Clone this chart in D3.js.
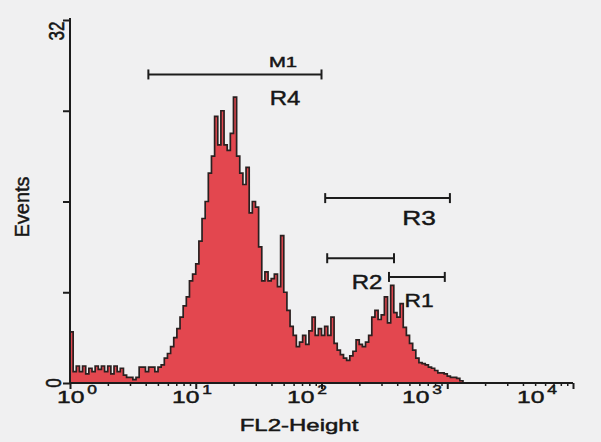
<!DOCTYPE html>
<html>
<head>
<meta charset="utf-8">
<script src="https://cdn.jsdelivr.net/npm/d3@7"></script>
<style>
  body { margin: 0; background: #f0f0f1; }
  svg { display: block; }
  text { font-family: "Liberation Sans", Arial, sans-serif; fill: #161616; stroke: #161616; stroke-width: 0.45px; }
</style>
</head>
<body>
<div id="chart"></div>
<script>
// FL2 histogram, 40 channels per decade
const CHANNELS_PER_DECADE = 40;
const counts = [
  4.5, 1.0, 1.5, 1.0, 1.5, 0.8, 1.3, 1.0, 1.5, 1.2,
  1.5, 1.0, 1.5, 0.8, 1.5, 1.0, 1.3, 0.7, 0.5, 0.5,
  0.3, 0.5, 1.4, 1.4, 1.0, 1.4, 1.4, 1.0, 1.4, 1.6,
  2.2, 2.6, 3.2, 4.0, 4.8, 5.8, 6.8, 7.6, 9.0, 9.6,
  10.5, 12.5, 14.5, 16.0, 18.5, 20.0, 23.5, 21.0, 24.0, 21.0,
  20.5, 22.0, 25.2, 20.0, 18.5, 17.5, 19.0, 15.0, 16.0, 15.5,
  12.0, 9.0, 9.8, 9.0, 9.2, 9.6, 8.5, 13.0, 8.0, 6.4,
  5.0, 4.2, 3.2, 3.6, 4.2, 3.4, 4.6, 5.8, 4.2, 4.8,
  4.2, 5.0, 4.2, 5.8, 3.5, 2.9, 2.5, 2.2, 2.0, 2.4,
  2.8, 3.8, 3.4, 3.2, 3.6, 4.2, 5.8, 6.4, 5.6, 6.0,
  7.6, 5.3, 8.6, 6.2, 5.8, 7.0, 4.9, 4.2, 3.5, 2.9,
  2.2, 1.8, 1.7, 1.6, 1.4, 1.3, 1.1, 0.9, 0.9, 0.8,
  0.6, 0.5, 0.5, 0.4, 0.2
];

const decades = [0, 1, 2, 3, 4];
const yTicks = [0, 8, 16, 24, 32];
const yLabels = ["0", "32"];

// markers: name, from, to, events level
const gateNames = ["M1", "R3", "R2", "R1"];
const gateFrom  = [4.2, 107, 111, 344];
const gateTo    = [100, 1050, 377, 956];
const gateLevel = [27.2, 16.3, 11.0, 9.35];

const width = 601, height = 442;

let svg = d3.select("#chart")
    .append("svg")
    .attr("width", width)
    .attr("height", height);

let x = d3.scaleLog()
    .domain([1, 1e4])
    .range([70, 573]);

let y = d3.scaleLinear()
    .domain([0, 32])
    .range([383, 20]);

// tick labels sit on their own even spacing in the original print
let xLab = d3.scaleLinear()
    .domain([0, 4])
    .range([57, 517]);

function label(px, py, str, size, sx, anchor) {
    return svg.append("text")
        .attr("transform", `translate(${px},${py}) scale(${sx},1)`)
        .attr("text-anchor", anchor || "middle")
        .style("font-size", size + "px")
        .text(str);
}

// histogram
let bins = counts.map((c, i) => ({ x: Math.pow(10, i / CHANNELS_PER_DECADE), c: c }));
bins.push({ x: Math.pow(10, counts.length / CHANNELS_PER_DECADE), c: 0 });

let area = d3.area()
    .x(d => x(d.x))
    .y0(y(0))
    .y1(d => y(d.c))
    .curve(d3.curveStepAfter);

let line = d3.line()
    .x(d => x(d.x))
    .y(d => y(d.c))
    .curve(d3.curveStepAfter);

svg.append("path")
    .datum(bins)
    .attr("d", area)
    .attr("fill", "#e3474f");

svg.append("path")
    .datum(bins)
    .attr("d", line)
    .attr("fill", "none")
    .attr("stroke", "#2a2020")
    .attr("stroke-width", 1.7);

// y axis
let yAxis = svg.append("g")
    .attr("transform", `translate(${x(1)},0)`)
    .call(d3.axisLeft(y).tickValues(yTicks).tickSize(7).tickFormat(""));
yAxis.select(".domain").attr("stroke", "#1c1c1c").attr("stroke-width", 2).attr("d", `M0,${y(32) - 2}V${y(0)}`);
yAxis.selectAll(".tick line").attr("stroke", "#1c1c1c").attr("stroke-width", 2);

// x axis, major + minor ticks
let minor = [];
decades.slice(0, 4).forEach(d => { for (let k = 2; k < 10; k++) minor.push(k * Math.pow(10, d)); });

let xAxis = svg.append("g")
    .attr("transform", `translate(0,${y(0)})`)
    .call(d3.axisBottom(x).tickValues(decades.map(d => Math.pow(10, d))).tickSize(6).tickFormat(""));
xAxis.select(".domain").attr("stroke", "#1c1c1c").attr("stroke-width", 2).attr("d", `M${x(1)},0H${x(1e4)}`);
xAxis.selectAll(".tick line").attr("stroke", "#1c1c1c").attr("stroke-width", 2);

let xMinor = svg.append("g")
    .attr("transform", `translate(0,${y(0)})`)
    .call(d3.axisBottom(x).tickValues(minor).tickSize(3).tickFormat(""));
xMinor.select(".domain").remove();
xMinor.selectAll(".tick line").attr("stroke", "#1c1c1c").attr("stroke-width", 1.5);

// x tick labels 10^k
decades.forEach(d => {
    let t = label(xLab(d), 403, "10", 17, 1.45, "start");
    t.append("tspan")
        .attr("dy", -9)
        .attr("dx", 2)
        .style("font-size", "12px")
        .text(d);
});

// y tick labels, rotated
yLabels.forEach(s => {
    let v = +s;
    svg.append("text")
        .attr("transform", `translate(${s === "0" ? 61 : 64},${y(v) + (s === "0" ? 0 : 11)}) rotate(-90) scale(1,1.3)`)
        .attr("text-anchor", "middle")
        .style("font-size", "17px")
        .text(s);
});

// axis titles
label(299, 431, "FL2-Height", 16, 1.5);
svg.append("text")
    .attr("transform", `translate(29,${207}) rotate(-90)`)
    .attr("text-anchor", "middle")
    .style("font-size", "20px")
    .text("Events");

// gate markers
gateNames.forEach((name, i) => {
    let g = svg.append("g").attr("stroke", "#1c1c1c").attr("stroke-width", 2);
    let x0 = x(gateFrom[i]), x1 = x(gateTo[i]), yy = y(gateLevel[i]);
    g.append("line").attr("x1", x0).attr("x2", x1).attr("y1", yy).attr("y2", yy);
    g.append("line").attr("x1", x0).attr("x2", x0).attr("y1", yy - 5).attr("y2", yy + 5);
    g.append("line").attr("x1", x1).attr("x2", x1).attr("y1", yy - 5).attr("y2", yy + 5);
});

// gate labels
label(283, 67, "M1", 14, 1.45);
label(285, 105, "R4", 20, 1.2);
label(419, 225, "R3", 21, 1.25);
label(367, 289, "R2", 20, 1.2);
label(419, 307, "R1", 19, 1.2);
</script>
</body>
</html>
